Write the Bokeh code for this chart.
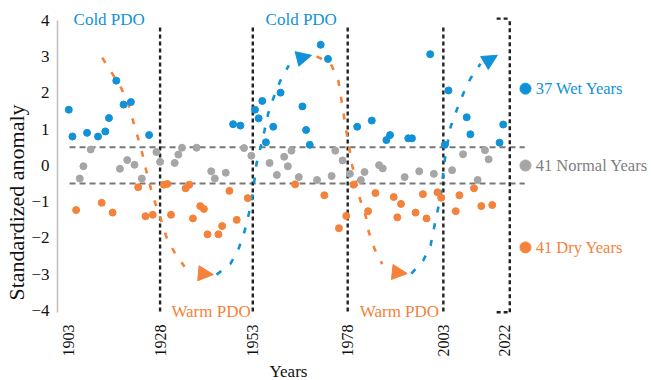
from math import pi
from bokeh.plotting import figure
from bokeh.models import Range1d, FixedTicker, Arrow, NormalHead, Title
from bokeh.embed import file_html
from bokeh.resources import INLINE
from bokeh.core.properties import value

# ---------------- data ----------------
wet_years = [1903, 1904, 1908, 1911, 1913, 1914, 1916, 1918, 1920, 1925,
             1948, 1950, 1954, 1955, 1956, 1957, 1959, 1961, 1967, 1968,
             1969, 1972, 1974, 1982, 1986, 1990, 1991, 1996, 1997, 2002,
             2006, 2007, 2012, 2013, 2021, 2022]
wet_values = [1.54, 0.80, 0.90, 0.80, 0.94, 1.31, 2.34, 1.68, 1.75, 0.84,
              1.14, 1.10, 1.54, 1.30, 1.78, 0.64, 1.07, 2.01, 1.63, 0.98,
              0.57, 3.33, 2.94, 1.07, 1.24, 0.70, 0.84, 0.75, 0.75, 3.07,
              0.57, 2.07, 1.33, 0.86, 0.63, 1.13]

normal_years = [1906, 1907, 1909, 1917, 1919, 1921, 1923, 1927, 1928, 1932,
                1933, 1934, 1938, 1942, 1943, 1946, 1951, 1953, 1958, 1960,
                1962, 1963, 1964, 1966, 1971, 1975, 1976, 1978, 1980, 1983,
                1984, 1988, 1989, 1995, 1999, 2003, 2008, 2011, 2015, 2017, 2018]
normal_values = [-0.36, -0.02, 0.44, -0.09, 0.15, 0.02, -0.36, 0.37, 0.10, 0.07,
                 0.30, 0.49, 0.49, -0.16, -0.36, -0.20, 0.48, 0.27, 0.07, -0.26,
                 0.24, -0.02, 0.41, -0.32, -0.40, -0.29, 0.41, 0.14, -0.23, -0.40,
                 -0.18, 0.01, -0.08, -0.32, -0.16, -0.23, -0.13, 0.31, -0.40, 0.42, 0.17]

dry_years = [1905, 1912, 1915, 1922, 1924, 1926, 1929, 1930, 1931, 1935,
             1936, 1937, 1939, 1940, 1941, 1944, 1945, 1947, 1949, 1952,
             1965, 1973, 1977, 1979, 1981, 1985, 1987, 1992, 1993, 1994,
             1998, 2000, 2001, 2004, 2005, 2009, 2010, 2014, 2016, 2019]
dry_values = [-1.23, -1.03, -1.30, -0.60, -1.40, -1.36, -0.53, -0.51, -1.36, -0.63,
              -0.53, -1.46, -1.12, -1.20, -1.90, -1.90, -1.67, -0.70, -1.50, -0.90,
              -0.52, -0.82, -1.73, -1.39, -0.53, -1.26, -0.76, -0.87, -1.43, -1.06,
              -1.30, -0.79, -1.46, -0.74, -0.89, -1.26, -0.82, -0.63, -1.12, -1.09]

legend_counts = [37, 41, 41]
legend_names = ["Wet Years", "Normal Years", "Dry Years"]
threshold = 0.5

tick_labels = ["1903", "1928", "1953", "1978", "2003", "2022"]
y_ticks = [-4, -3, -2, -1, 0, 1, 2, 3, 4]

# hand-drawn PDO phase sketch
warm1_x = [1912.15, 1914.70, 1917.44, 1919.27, 1921.90, 1923.11, 1924.21, 1925.38, 1926.75, 1928.32, 1929.77, 1931.96, 1934.70]
warm1_y = [2.97, 2.57, 2.12, 1.70, 0.78, 0.34, -0.14, -0.60, -1.06, -1.52, -1.98, -2.40, -2.79]
cold1_x = [1943.47, 1947.30, 1949.58, 1951.14, 1952.32, 1953.25, 1954.43, 1956.26, 1957.63, 1959.16, 1961.00, 1963.27]
cold1_y = [-3.01, -2.71, -2.28, -1.82, -1.33, -0.88, 0.06, 0.80, 1.44, 1.89, 2.35, 2.76]
warm2_x = [1970.86, 1974.70, 1976.81, 1977.63, 1978.34, 1979.08, 1980.64, 1982.73, 1984.29, 1985.19, 1986.75, 1988.86]
warm2_y = [3.01, 2.82, 2.35, 1.84, 1.38, 0.92, 0.00, -0.91, -1.38, -1.84, -2.30, -2.72]
cold2_x = [1996.84, 2000.10, 2002.10, 2003.00, 2003.93, 2004.84, 2005.74, 2006.21, 2007.58, 2009.22, 2011.05, 2013.05, 2015.79]
cold2_y = [-2.98, -2.62, -2.21, -1.75, -1.29, -0.88, -0.05, 0.32, 1.06, 1.52, 1.98, 2.40, 2.81]

# ---------------- layout constants ----------------
BLUE = "#1192D8"
ORANGE = "#F5823A"
GRAY = "#A6A6A6"
GRAY_TXT = "#808080"
FONT = "Times New Roman, Liberation Serif, serif"

tick_pos = [1903.0, 1928.0, 1953.4, 1979.4, 2005.6, 2022.3]
bound_pos = [1928.0, 1953.4, 1979.4, 2005.6]

p = figure(width=652, height=380, output_backend="svg", toolbar_location=None,
           x_range=Range1d(1899.9, 2062.9), y_range=Range1d(-4.331, 4.441),
           min_border_left=57, min_border_right=0, min_border_top=4, min_border_bottom=58)
p.outline_line_color = None
p.grid.visible = False
p.background_fill_color = "white"
p.border_fill_color = "white"

# axes
p.yaxis.ticker = FixedTicker(ticks=y_ticks)
p.yaxis.bounds = (-4.05, 4.0)
p.yaxis.axis_line_color = "#BFBFBF"
p.yaxis.axis_line_width = 1.5
p.yaxis.major_tick_line_color = None
p.yaxis.minor_tick_line_color = None
p.yaxis.major_tick_in = 0
p.yaxis.major_tick_out = 0
p.yaxis.major_label_standoff = 8
p.yaxis.major_label_text_font = FONT
p.yaxis.major_label_text_font_size = "17px"
p.yaxis.major_label_text_color = "#111111"

p.xaxis.ticker = FixedTicker(ticks=tick_pos)
p.xaxis.major_label_overrides = {t: s for t, s in zip(tick_pos, tick_labels)}
p.xaxis.major_label_orientation = pi / 2
p.xaxis.axis_line_color = None
p.xaxis.major_tick_line_color = None
p.xaxis.minor_tick_line_color = None
p.xaxis.major_tick_in = 0
p.xaxis.major_tick_out = 0
p.xaxis.major_label_standoff = 2
p.xaxis.major_label_text_font = FONT
p.xaxis.major_label_text_font_size = "16px"
p.xaxis.major_label_text_color = "#111111"

# axis titles (side titles so they can be offset like the original)
p.add_layout(Title(text="Years", align="left", offset=212, standoff=0,
                   text_font=FONT, text_font_size="17px", text_font_style="normal",
                   text_color="#111111"), "below")
p.add_layout(Title(text="Standardized anomaly", align="left", offset=22, standoff=0,
                   text_font=FONT, text_font_size="22px", text_font_style="normal",
                   text_color="#111111"), "left")

# thresholds +-0.5
for yv in (threshold, -threshold):
    p.segment(x0=1903.2, x1=2027.9, y0=yv, y1=yv, line_color="#777777",
              line_width=2, line_dash="6 4")

# PDO phase boundaries
p.segment(x0=bound_pos, x1=bound_pos, y0=[-4.03] * len(bound_pos), y1=[3.81] * len(bound_pos),
          line_color="#222222", line_width=2.4, line_dash="4 3")
p.segment(x0=[2023.8, 2020.2, 2020.2], x1=[2023.8, 2023.8, 2023.8],
          y0=[-4.05, 4.05, -4.05], y1=[4.05, 4.05, -4.05],
          line_color="#222222", line_width=2.4, line_dash="4 3")

# PDO sketch curves
for xs, ys, col in ((warm1_x, warm1_y, ORANGE), (cold1_x, cold1_y, BLUE),
                    (warm2_x, warm2_y, ORANGE), (cold2_x, cold2_y, BLUE)):
    p.line(xs, ys, line_color=col, line_width=2.6, line_dash="6 11")

for (xs, ys, xe, ye, col) in ((1936.0, -2.95, 1942.6, -3.01, ORANGE),
                              (1964.0, 2.90, 1969.5, 3.04, BLUE),
                              (1990.0, -2.92, 1995.7, -2.98, ORANGE),
                              (2016.4, 2.80, 2020.4, 3.04, BLUE)):
    p.add_layout(Arrow(end=NormalHead(size=15, fill_color=col, line_color=col),
                       x_start=xs, y_start=ys, x_end=xe, y_end=ye,
                       line_alpha=0))

# data points
p.scatter(normal_years, normal_values, size=7, color=GRAY)
p.scatter(dry_years, dry_values, size=7, color=ORANGE)
p.scatter(wet_years, wet_values, size=7, color=BLUE)

# phase labels
p.text(x=[1904.3, 1956.9], y=[4.03, 4.03], text=["Cold PDO", "Cold PDO"],
       text_font=value(FONT), text_font_size="17px", text_color=BLUE,
       text_baseline="middle", text_align="left")
p.text(x=[1931.1, 1982.7], y=[-4.02, -4.02], text=["Warm PDO", "Warm PDO"],
       text_font=value(FONT), text_font_size="17px", text_color=ORANGE,
       text_baseline="middle", text_align="left")

# legend (custom)
leg_y = [2.12, 0.0, -2.26]
leg_cols = [BLUE, GRAY, ORANGE]
leg_txt_cols = [BLUE, GRAY_TXT, ORANGE]
p.scatter([2028.1] * 3, leg_y, size=11, color=leg_cols)
p.text(x=[2030.9] * 3, y=leg_y,
       text=[f"{c} {n}" for c, n in zip(legend_counts, legend_names)],
       text_font=value(FONT), text_font_size="16.5px", text_color=leg_txt_cols,
       text_baseline="middle", text_align="left")

open("out.html", "w").write(file_html(p, INLINE))
